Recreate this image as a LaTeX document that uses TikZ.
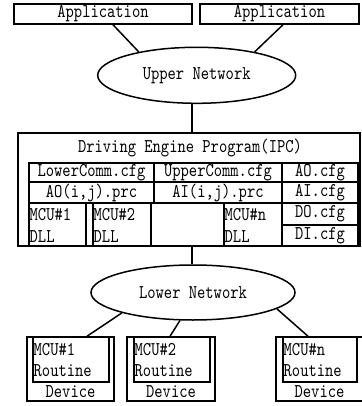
\documentclass[tikz,border=0pt]{standalone}
\usepackage{fontspec}
\newfontfamily\dfont{lmmono10-regular.otf}[FakeStretch=0.81]
\usetikzlibrary{shapes.geometric}

\tikzset{
  box/.style={draw, rectangle, inner sep=0pt, line width=1.5pt},
  net/.style={draw, ellipse, inner sep=0pt, line width=1.5pt},
  txt/.style={inner sep=0pt},
  wire/.style={line width=1.5pt},
  cellline/.style={line width=1.5pt},
}

\begin{document}
\begin{tikzpicture}[x=1pt, y=-1pt, font={\dfont\fontsize{19.5pt}{21pt}\selectfont}]
\useasboundingbox (0,0) rectangle (361,406);

% applications and upper network
\node[box, minimum width=178pt, minimum height=20pt] (app1) at (103,14) {Application};
\node[box, minimum width=159pt, minimum height=20pt] (app2) at (279.5,14) {Application};
\node[net, minimum width=198pt, minimum height=56pt] (un) at (196.7,75.3) {Upper Network};
\draw[wire] ([xshift=10pt]app1.south) -- (un.158);
\draw[wire] ([xshift=3.5pt]app2.south) -- (un.22);

% driving engine program
\coordinate (j1) at (192,133.3);
\node[box, minimum width=342pt, minimum height=113pt] (ipc) at (189,189.5) {};
\draw[wire] (j1 |- un.south) -- (j1);
\node[txt] (title) at (190,148) {Driving Engine Program(IPC)};

% configuration table
\draw[cellline] (29,163) rectangle (154,182);
\draw[cellline] (154,163) rectangle (282,182);
\draw[cellline] (282,163) rectangle (358,182);
\draw[cellline] (29,182) rectangle (154,203);
\draw[cellline] (154,182) rectangle (282,203);
\draw[cellline] (282,182) rectangle (358,203);
\draw[cellline] (29,203) rectangle (86,246);
\draw[cellline] (93,203) rectangle (151,246);
\draw[cellline] (151,203) rectangle (224,246);
\draw[cellline] (224,203) rectangle (282,246);
\draw[cellline] (282,203) rectangle (358,225);
\draw[cellline] (282,225) rectangle (358,246);

\node[txt] (lc) at (91.5,172.5) {LowerComm.cfg};
\node[txt] (uc) at (218,172.5) {UpperComm.cfg};
\node[txt] (aoc) at (320,172.5) {AO.cfg};
\node[txt] (aop) at (91.5,192.5) {AO(i,j).prc};
\node[txt] (aip) at (218,192.5) {AI(i,j).prc};
\node[txt] (aic) at (320,192.5) {AI.cfg};
\node[txt] (doc) at (320,214) {DO.cfg};
\node[txt] (dic) at (320,235.5) {DI.cfg};

\node[txt, anchor=west] (m1) at (29.5,215) {MCU\#1};
\node[txt, anchor=west] (d1) at (29.5,237) {DLL};
\node[txt, anchor=west] (m2) at (93.5,215) {MCU\#2};
\node[txt, anchor=west] (d2) at (93.5,237) {DLL};
\node[txt, anchor=west] (mn) at (224.5,215) {MCU\#n};
\node[txt, anchor=west] (dn) at (224.5,237) {DLL};

% lower network
\coordinate (j2) at (192,246);
\node[net, minimum width=204pt, minimum height=55pt] (ln) at (193,292.5) {Lower Network};
\draw[wire] (j2) -- (j2 |- ln.north);

% devices
\node[box, minimum width=87pt, minimum height=64pt] (dev1) at (70.5,369) {};
\node[box, minimum width=88pt, minimum height=64pt] (dev2) at (171,369) {};
\node[box, minimum width=87pt, minimum height=64pt] (devn) at (319.5,369) {};
\node[box, minimum width=76pt, minimum height=45pt] (r1) at (71,359.5) {};
\node[box, minimum width=76pt, minimum height=45pt] (r2) at (172,359.5) {};
\node[box, minimum width=74pt, minimum height=45pt] (rn) at (320,359.5) {};

\node[txt, anchor=west] (r1a) at (33.5,350) {MCU\#1};
\node[txt, anchor=west] (r1b) at (33.5,371) {Routine};
\node[txt] (dv1) at (70.5,392) {Device};
\node[txt, anchor=west] (r2a) at (134.5,350) {MCU\#2};
\node[txt, anchor=west] (r2b) at (134.5,371) {Routine};
\node[txt] (dv2) at (171,392) {Device};
\node[txt, anchor=west] (rna) at (283.5,350) {MCU\#n};
\node[txt, anchor=west] (rnb) at (283.5,371) {Routine};
\node[txt] (dvn) at (319.5,392) {Device};

\draw[wire] (ln.196) -- ([xshift=16.5pt]dev1.north);
\draw[wire] (ln.245) -- ([xshift=-1pt]dev2.north);
\draw[wire] (ln.349) -- ([xshift=-11.5pt]devn.north);
\end{tikzpicture}
\end{document}
